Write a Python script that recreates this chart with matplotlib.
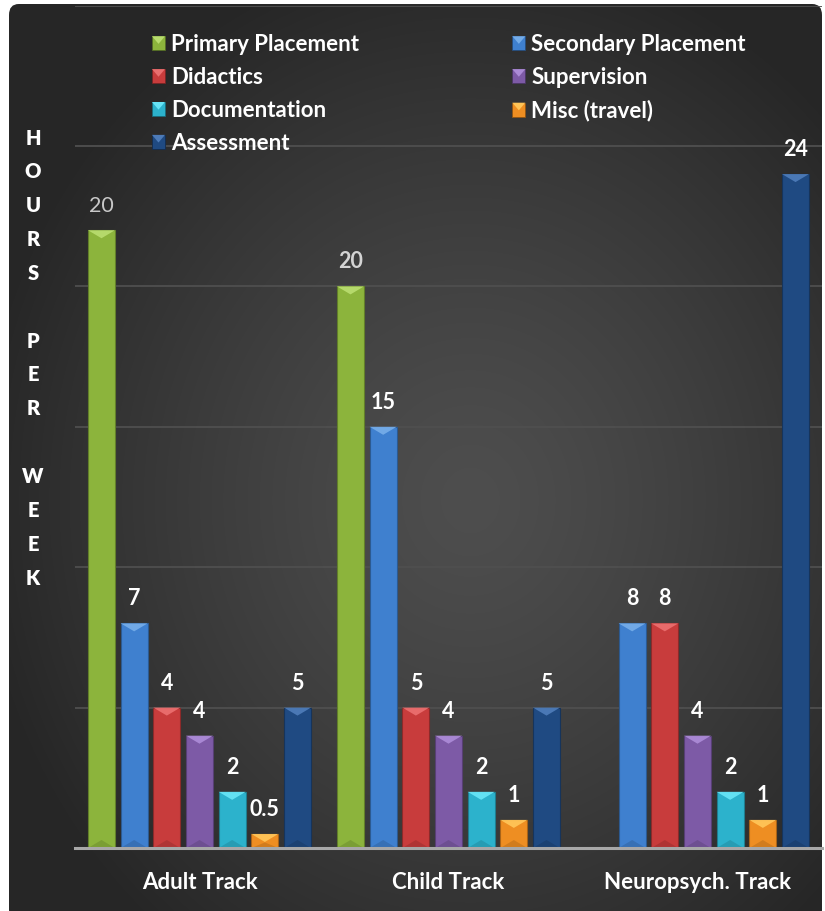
import numpy as np
import matplotlib
matplotlib.use("Agg")
import matplotlib.pyplot as plt
import matplotlib.colors as mcolors
from matplotlib.patches import Rectangle, Polygon, FancyBboxPatch
from matplotlib.legend_handler import HandlerBase
from matplotlib.container import BarContainer

# ---------------- data ----------------
categories = ["Adult Track", "Child Track", "Neuropsych. Track"]
series = ["Primary Placement", "Secondary Placement", "Didactics", "Supervision",
          "Documentation", "Misc (travel)", "Assessment"]

primary = [22, 20, np.nan]
secondary = [8, 15, 8]
didactics = [5, 5, 8]
supervision = [4, 4, 4]
documentation = [2, 2, 2]
misc = [0.5, 1, 1]
assessment = [5, 5, 24]

primary_labels = ["20", "20", ""]
secondary_labels = ["7", "15", "8"]
didactics_labels = ["4", "5", "8"]
supervision_labels = ["4", "4", "4"]
documentation_labels = ["2", "2", "2"]
misc_labels = ["0.5", "1", "1"]
assessment_labels = ["5", "5", "24"]

ylabel_text = "HOURS PER WEEK"

values = [primary, secondary, didactics, supervision, documentation, misc, assessment]
labels = [primary_labels, secondary_labels, didactics_labels, supervision_labels,
          documentation_labels, misc_labels, assessment_labels]

# ---------------- styles ----------------
body_colors = ["#8cb43c", "#3f80cf", "#c83c3c", "#7d5aa6", "#2cb2cc", "#ee8e22", "#1f4a82"]
top_colors = ["#b8dc6e", "#74ace8", "#ea6e6e", "#ab8ad6", "#66e4f6", "#ffc457", "#4d7bb8"]
label_colors = {0: ["#c8c8c8", "#d4d4d4", "#ffffff"]}
label_weights = {0: ["normal", "bold", "bold"]}

plt.rcParams['font.family'] = ['Lato', 'DejaVu Sans']

FW, FH, DPI = 825, 911, 100
fig = plt.figure(figsize=(FW / DPI, FH / DPI), dpi=DPI, facecolor="white")

# ---------------- background (radial gradient) ----------------
bx0, by0 = 9, 4
bw, bh = 822 - 9, FH - 4 + 10
bg = fig.add_axes([bx0 / FW, -10 / FH, bw / FW, bh / FH])
bg.set_axis_off()
xx, yy = np.meshgrid(np.arange(bw) + bx0, np.arange(bh) + by0)
r = np.sqrt(((xx - 470) / 500.0) ** 2 + ((yy - 500) / 560.0) ** 2)
r = np.clip(r, 0, 1)
g = (78 - 40 * r ** 1.3) / 255.0
img = np.dstack([g, g, g])
im = bg.imshow(img, extent=[0, 1, 0, 1], aspect="auto", origin="upper", zorder=0)
clip = FancyBboxPatch((0, 0), 1, 1, boxstyle="round,pad=0,rounding_size=0.012",
                      transform=bg.transAxes, facecolor="none", edgecolor="none")
bg.add_patch(clip)
im.set_clip_path(clip)

# ---------------- main axes ----------------
ax_bottom = 848
ax_top = 5.6
ax = fig.add_axes([75 / FW, (FH - ax_bottom) / FH, 747 / FW, (ax_bottom - ax_top) / FH])
ax.set_facecolor("none")
ax.set_xlim(-0.5, 2.5)
ax.set_ylim(0, 30)
px_per_unit = (ax_bottom - ax_top) / 30.0

ax.set_yticks(np.arange(0, 31, 5))
ax.yaxis.grid(True, color="#4f4f4f", linewidth=1.3)
ax.set_axisbelow(True)
ax.tick_params(axis="y", length=0, labelleft=False)
for s in ["left", "right", "top"]:
    ax.spines[s].set_visible(False)
ax.spines["bottom"].set_color("#a8a8a8")
ax.spines["bottom"].set_linewidth(2.2)
ax.spines["bottom"].set_zorder(5)

x = np.arange(len(categories))
pitch = 0.1312
width = 0.1084
n = len(series)
bevel = 8.0 / px_per_unit

containers = []
for i, (vals, name) in enumerate(zip(values, series)):
    off = (i - (n - 1) / 2) * pitch
    edge = mcolors.to_rgb(body_colors[i])
    edge = tuple(c * 0.7 for c in edge)
    bc = ax.bar(x + off, vals, width, color=body_colors[i], edgecolor=edge,
                linewidth=0.8, label=name, zorder=3)
    containers.append(bc)
    for j, p in enumerate(bc.patches):
        h = p.get_height()
        if not np.isfinite(h) or h <= 0:
            continue
        x0, w = p.get_x(), p.get_width()
        d = min(bevel, h * 0.6)
        ax.add_patch(Polygon([(x0, h), (x0 + w, h), (x0 + w / 2, h - d)],
                             closed=True, facecolor=top_colors[i], edgecolor="none",
                             alpha=0.95, zorder=4))
        ax.add_patch(Polygon([(x0, 0), (x0 + w, 0), (x0 + w / 2, min(bevel, h * 0.4))],
                             closed=True, facecolor="black", edgecolor="none",
                             alpha=0.12, zorder=4))
        lab = labels[i][j]
        if lab:
            col = label_colors.get(i, ["#ffffff"] * 3)[j]
            wt = label_weights.get(i, ["bold"] * 3)[j]
            ax.annotate(lab, (x0 + w / 2, h), xytext=(0, 18 * 72 / DPI),
                        textcoords="offset points", ha="center", va="baseline",
                        fontsize=15.5, fontweight=wt, color=col, zorder=6)

ax.set_xticks(x)
ax.set_xticklabels(categories, fontsize=16, fontweight="bold", color="white")
ax.tick_params(axis="x", length=0, pad=17)

# ---------------- legend ----------------
color_of = {name: (body_colors[i], top_colors[i]) for i, name in enumerate(series)}


class BevelHandler(HandlerBase):
    def create_artists(self, legend, orig_handle, xdescent, ydescent, width, height,
                       fontsize, trans):
        bcol, tcol = color_of[orig_handle.get_label()]
        x0, y0 = -xdescent, -ydescent
        rect = Rectangle((x0, y0), width, height, facecolor=bcol,
                         edgecolor=tuple(c * 0.6 for c in mcolors.to_rgb(bcol)),
                         linewidth=0.6, transform=trans)
        tri = Polygon([(x0, y0 + height), (x0 + width, y0 + height),
                       (x0 + width / 2, y0 + height * 0.45)], closed=True,
                      facecolor=tcol, edgecolor="none", transform=trans)
        return [rect, tri]


order = [0, 2, 4, 6, 1, 3, 5]
lfs = 16
leg = ax.legend([containers[k] for k in order], [series[k] for k in order],
                handler_map={BarContainer: BevelHandler()},
                ncol=2, loc="upper left", bbox_to_anchor=(152 / FW, 1 - 34 / FH),
                bbox_transform=fig.transFigure, frameon=False, borderpad=0,
                borderaxespad=0, handlelength=0.585, handleheight=0.585,
                handletextpad=0.27, labelspacing=0.535, columnspacing=6.9,
                prop={"weight": "bold", "size": lfs})
for t in leg.get_texts():
    t.set_color("white")
leg.set_zorder(7)

# ---------------- vertical y label ----------------
lines = ["" if ch == " " else ch for ch in ylabel_text]
for k, ch in enumerate(lines):
    if ch:
        fig.text(33 / FW, 1 - (138 + k * 33.85) / FH, ch, ha="center", va="center",
                 fontsize=14.5, fontweight="heavy", color="white")

fig.savefig("out.png", dpi=DPI, facecolor="white")
